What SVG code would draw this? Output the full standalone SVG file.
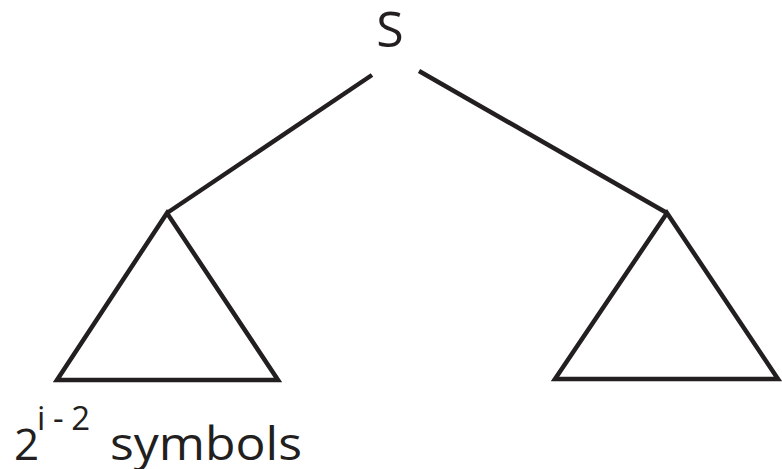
<svg xmlns="http://www.w3.org/2000/svg" width="782" height="469" viewBox="0 0 782 469">
<style>
.e{stroke:#231f20;stroke-width:4.5;fill:none;stroke-linejoin:miter}
.t{font-family:"Open Sans","Liberation Sans",sans-serif;fill:#231f20}
</style>
<rect width="782" height="469" fill="#fff"/>
<g id="root"><text class="t" x="390" y="47" font-size="50" text-anchor="middle">S</text></g>
<g id="left"><polygon class="e" points="167,213 57,380 278,380"/>
<text class="t" x="14" y="460" font-size="44">2</text>
<text class="t" x="37" y="430" font-size="33" textLength="53" lengthAdjust="spacing">i-2</text>
<text class="t" x="110" y="460" font-size="46" textLength="192" lengthAdjust="spacingAndGlyphs">symbols</text></g>
<g id="right"><polygon class="e" points="667,213 555,379 778,379"/></g>
<g id="connectors">
<line class="e" x1="372" y1="75" x2="167" y2="213"/>
<line class="e" x1="419" y1="71" x2="667" y2="213"/>
</g>
</svg>
